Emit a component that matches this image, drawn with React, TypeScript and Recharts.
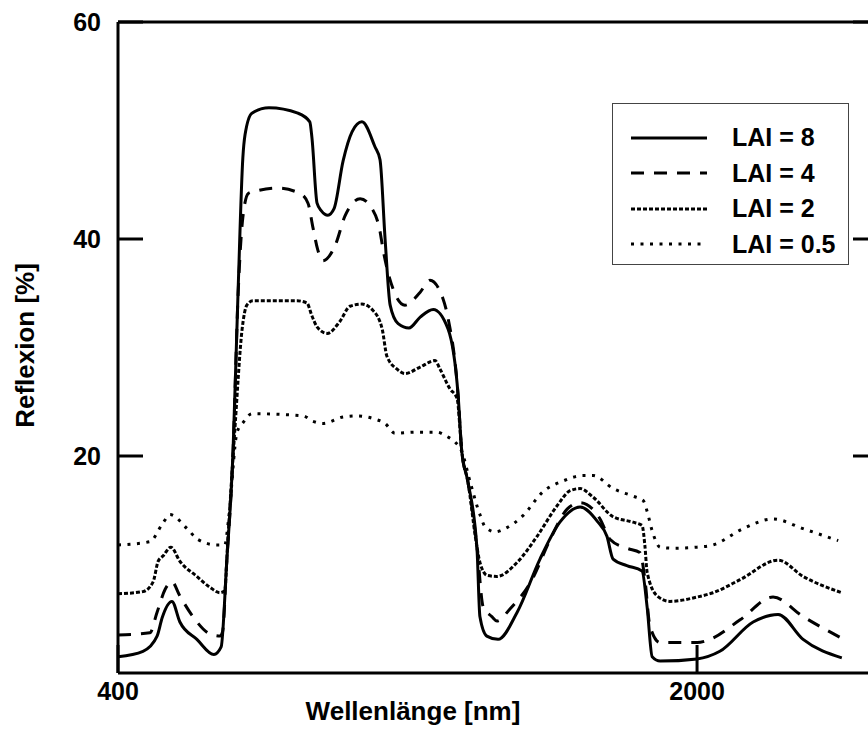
import React from 'react';
import { LineChart, Line, XAxis, YAxis, Legend } from 'recharts';

// Wavelength (nm) and reflectance (%), one pair of arrays per LAI
const lai8Nm = [400, 469, 508, 522, 549, 571, 618, 665, 685, 700, 718, 732, 745, 751, 770, 817, 897, 930, 936, 950, 962, 980, 997, 1022, 1047, 1074, 1110, 1124, 1138, 1152, 1174, 1204, 1235, 1271, 1312, 1340, 1350, 1367, 1392, 1400, 1419, 1450, 1503, 1566, 1621, 1677, 1724, 1751, 1768, 1806, 1848, 1862, 1876, 1898, 2000, 2063, 2155, 2224, 2293, 2400];
const lai8 = [1.5, 2.0, 3.4, 5.1, 6.6, 4.7, 3.1, 1.7, 2.4, 10.0, 20.6, 35.4, 47.5, 49.6, 51.6, 52.1, 51.6, 50.8, 49.3, 43.3, 42.6, 42.2, 42.8, 47.2, 49.9, 50.8, 48.5, 47.3, 40.0, 33.9, 32.2, 31.8, 32.8, 33.5, 31.7, 25.5, 20.4, 17.6, 11.4, 5.2, 3.4, 3.1, 5.6, 10.5, 13.9, 15.3, 14.0, 12.6, 10.5, 9.9, 9.4, 6.1, 1.5, 1.1, 1.3, 2.0, 4.7, 5.4, 3.1, 1.4];

const lai4Nm = [400, 488, 508, 530, 549, 571, 607, 654, 682, 689, 700, 718, 732, 745, 760, 779, 839, 903, 925, 939, 952, 966, 1000, 1027, 1069, 1102, 1124, 1132, 1160, 1193, 1235, 1262, 1298, 1312, 1340, 1350, 1367, 1392, 1409, 1433, 1447, 1483, 1544, 1594, 1641, 1677, 1732, 1760, 1806, 1842, 1856, 1870, 1898, 2000, 2036, 2119, 2210, 2293, 2400];
const lai4 = [3.5, 3.7, 5.6, 7.7, 8.4, 7.1, 5.2, 3.6, 3.4, 3.8, 10.0, 20.4, 35.0, 42.0, 44.2, 44.4, 44.7, 44.2, 43.3, 41.0, 39.0, 38.0, 39.4, 42.1, 43.7, 42.8, 40.7, 39.1, 35.4, 33.9, 35.1, 36.2, 34.5, 32.7, 25.5, 20.4, 17.6, 11.6, 6.1, 5.2, 4.8, 5.9, 8.6, 12.3, 15.1, 15.7, 14.2, 12.3, 11.5, 11.1, 8.6, 4.3, 2.8, 2.8, 3.1, 4.9, 7.0, 5.2, 3.2];

const lai2Nm = [400, 469, 497, 511, 525, 546, 571, 618, 654, 682, 695, 703, 723, 743, 756, 773, 895, 922, 936, 950, 978, 1013, 1041, 1074, 1105, 1130, 1143, 1171, 1193, 1235, 1276, 1290, 1317, 1337, 1350, 1367, 1390, 1400, 1420, 1447, 1503, 1558, 1613, 1649, 1677, 1713, 1768, 1823, 1848, 1856, 1862, 1890, 1925, 2000, 2044, 2119, 2224, 2293, 2400];
const lai2 = [7.3, 7.5, 8.4, 10.3, 10.8, 11.6, 10.3, 8.9, 7.9, 7.4, 7.6, 12.0, 22.5, 31.7, 33.9, 34.3, 34.3, 34.1, 32.9, 31.9, 31.3, 32.4, 33.8, 34.0, 33.4, 31.7, 29.2, 28.0, 27.6, 28.2, 28.8, 28.0, 26.2, 25.3, 20.4, 17.6, 12.0, 10.2, 9.0, 8.9, 10.2, 12.6, 15.4, 16.8, 17.0, 16.2, 14.4, 13.9, 13.6, 11.7, 9.3, 7.1, 6.6, 7.0, 7.4, 8.6, 10.4, 8.9, 7.4];

const lai05Nm = [400, 488, 522, 544, 591, 621, 674, 695, 705, 729, 746, 770, 911, 939, 966, 1022, 1060, 1110, 1138, 1165, 1226, 1281, 1309, 1331, 1350, 1373, 1400, 1414, 1442, 1469, 1519, 1574, 1630, 1685, 1713, 1768, 1823, 1851, 1862, 1876, 1898, 1934, 2000, 2044, 2127, 2210, 2293, 2390];
const lai05 = [11.8, 12.1, 13.7, 14.6, 13.3, 12.3, 11.8, 11.8, 14.0, 22.2, 23.1, 23.9, 23.7, 23.2, 23.0, 23.6, 23.7, 23.4, 23.0, 22.1, 22.2, 22.2, 21.8, 21.3, 20.4, 17.6, 14.6, 13.5, 13.0, 13.3, 14.5, 16.7, 17.7, 18.2, 18.2, 17.0, 16.3, 15.9, 14.9, 13.1, 11.6, 11.5, 11.6, 11.8, 13.3, 14.2, 13.3, 12.2];

const xTicks = [400, 2000];
const yTicks = [20, 40, 60];

const toPoints = (nm: number[], refl: number[]) =>
  nm.map((w, i) => ({ nm: w, refl: refl[i] }));

const series = [
  { name: 'LAI = 8', data: toPoints(lai8Nm, lai8), dash: undefined },
  { name: 'LAI = 4', data: toPoints(lai4Nm, lai4), dash: '13 10' },
  { name: 'LAI = 2', data: toPoints(lai2Nm, lai2), dash: '4 2' },
  { name: 'LAI = 0.5', data: toPoints(lai05Nm, lai05), dash: '3 6.5' },
];

const FONT = '"Liberation Sans", Arial, sans-serif';
const tickStyle = { fill: '#000', fontSize: 25, fontWeight: 700, fontFamily: FONT };
const titleStyle = { ...tickStyle, fontSize: 26 };
const axisStroke = { stroke: '#000', strokeWidth: 3 };
const noLabel = () => '';

function LegendBox() {
  return (
    <div
      style={{
        boxSizing: 'border-box',
        width: 237,
        height: 162,
        border: '1px solid #444',
        background: '#fff',
        paddingTop: 16,
        fontFamily: FONT,
        fontWeight: 700,
        fontSize: 25,
      }}
    >
      {series.map((s) => (
        <div key={s.name} style={{ display: 'flex', alignItems: 'center', height: 35.5 }}>
          <svg width={119} height={10} style={{ display: 'block' }}>
            <line x1={18} x2={94} y1={5} y2={5} stroke="#000" strokeWidth={3} strokeDasharray={s.dash} />
          </svg>
          <span style={{ lineHeight: '25px' }}>{s.name}</span>
        </div>
      ))}
    </div>
  );
}

export default function App() {
  return (
    <div
      style={{
        position: 'absolute',
        left: 0,
        top: 0,
        width: 868,
        height: 729,
        overflow: 'hidden',
        background: '#fff',
      }}
    >
      <LineChart width={900} height={729} margin={{ top: 20, right: 20, bottom: 26, left: 58 }}>
        <XAxis
          dataKey="nm"
          type="number"
          domain={[400, 2500]}
          ticks={xTicks}
          allowDataOverflow
          height={30}
          axisLine={axisStroke}
          tickLine={axisStroke}
          tickSize={-28}
          tickMargin={37}
          tick={tickStyle}
          label={{ value: 'Wellenlänge [nm]', position: 'bottom', offset: -1, dx: -85, style: titleStyle }}
        />
        <XAxis
          xAxisId="top"
          orientation="top"
          type="number"
          domain={[400, 2500]}
          ticks={xTicks}
          allowDataOverflow
          height={2}
          axisLine={axisStroke}
          tickLine={axisStroke}
          tickSize={-28}
          tick={tickStyle}
          tickFormatter={noLabel}
        />
        <YAxis
          type="number"
          domain={[0, 60]}
          ticks={yTicks}
          allowDataOverflow
          width={60}
          axisLine={axisStroke}
          tickLine={axisStroke}
          tickSize={-25}
          tickMargin={42}
          tick={tickStyle}
          label={{ value: 'Reflexion [%]', angle: -90, position: 'center', dx: -63, dy: -2, style: titleStyle }}
        />
        <YAxis
          yAxisId="right"
          orientation="right"
          type="number"
          domain={[0, 60]}
          ticks={yTicks}
          allowDataOverflow
          width={2}
          axisLine={axisStroke}
          tickLine={axisStroke}
          tickSize={-25}
          tick={tickStyle}
          tickFormatter={noLabel}
          interval={0}
        />
        <Legend
          layout="vertical"
          align="center"
          verticalAlign="middle"
          wrapperStyle={{ left: 612, top: 103, width: 237, height: 162 }}
          content={() => <LegendBox />}
        />
        {series.map((s) => (
          <Line
            key={s.name}
            data={s.data}
            dataKey="refl"
            name={s.name}
            type="monotone"
            stroke="#000"
            strokeWidth={3}
            strokeDasharray={s.dash}
            dot={false}
            activeDot={false}
            isAnimationActive={false}
          />
        ))}
      </LineChart>
    </div>
  );
}
